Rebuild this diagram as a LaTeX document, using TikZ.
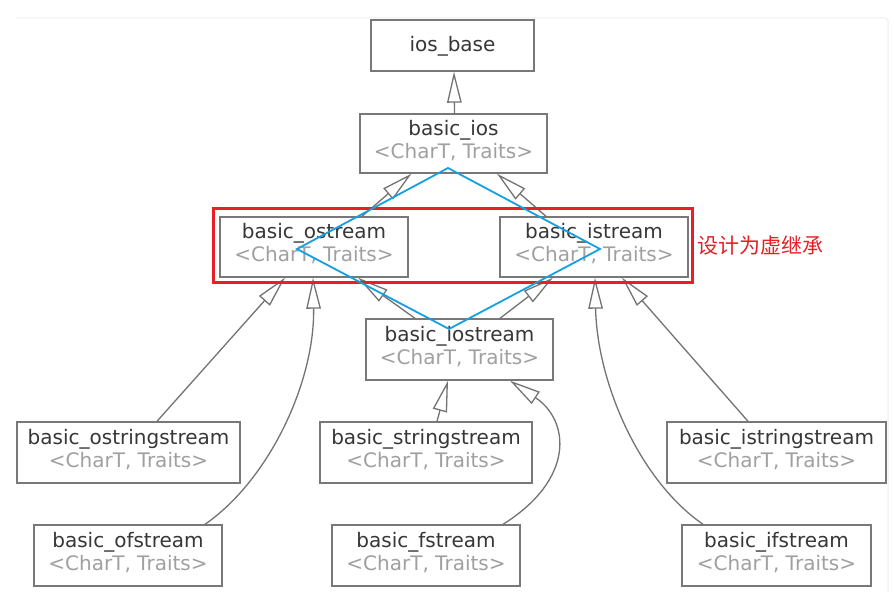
\documentclass[tikz,border=0pt]{standalone}
\usepackage{fontspec}
\setmainfont{DejaVu Sans}
\newfontfamily\cjk{Noto Sans CJK SC}
\usetikzlibrary{arrows.meta}
\definecolor{boxgray}{RGB}{120,120,120}
\definecolor{edgegray}{RGB}{115,115,115}
\definecolor{darktext}{RGB}{55,55,55}
\definecolor{tmplgray}{RGB}{160,160,160}
\definecolor{annblue}{RGB}{20,160,225}
\definecolor{annred}{RGB}{232,30,40}
\definecolor{framegray}{RGB}{238,238,238}
\newcommand{\tparams}{\textcolor{tmplgray}{<CharT, Traits>}}
\begin{document}
\begin{tikzpicture}[x=1pt,y=-1pt,
  box/.style={draw=boxgray, line width=1.4pt, fill=white, inner sep=0pt},
  lbl/.style={align=center, text=darktext, inner sep=0pt,
    font=\fontsize{20}{23}\selectfont},
  inh/.style={draw=edgegray, line width=1.3pt,
    -{Triangle[open, length=31pt, width=14.5pt]}},
]
\fill[white] (0,0) rectangle (894,609);
\useasboundingbox (0,0) rectangle (894,609);
% faint frame
\draw[framegray, line width=1pt, rounded corners=3pt] (16,18) -- (888,18) -- (888,592);

% boxes
\node[box, minimum width=163pt, minimum height=51pt] (iosb) at (452.5,45.5) {};
\node[lbl, yshift=-1pt] at (iosb.center) {ios\_base};

\node[box, minimum width=187pt, minimum height=59pt] (ios) at (453.5,143.5) {};
\node[lbl, yshift=3pt] at (ios.center) {basic\_ios\\\tparams};

\node[box, minimum width=188pt, minimum height=60pt] (os) at (314,247) {};
\node[lbl, yshift=3pt] at (os.center) {basic\_ostream\\\tparams};

\node[box, minimum width=188pt, minimum height=60pt] (is) at (594,247) {};
\node[lbl, yshift=3pt] at (is.center) {basic\_istream\\\tparams};

\node[box, minimum width=187pt, minimum height=61pt] (iost) at (459.5,349.5) {};
\node[lbl, yshift=3pt] at (iost.center) {basic\_iostream\\\tparams};

\node[box, minimum width=223pt, minimum height=61pt] (oss) at (128.5,452.5) {};
\node[lbl, yshift=3pt] at (oss.center) {basic\_ostringstream\\\tparams};

\node[box, minimum width=212pt, minimum height=61pt] (ss) at (426,452.5) {};
\node[lbl, yshift=3pt] at (ss.center) {basic\_stringstream\\\tparams};

\node[box, minimum width=219pt, minimum height=61pt] (iss) at (776.5,452.5) {};
\node[lbl, yshift=3pt] at (iss.center) {basic\_istringstream\\\tparams};

\node[box, minimum width=188pt, minimum height=61pt] (ofs) at (128,555.5) {};
\node[lbl, yshift=3pt] at (ofs.center) {basic\_ofstream\\\tparams};

\node[box, minimum width=188pt, minimum height=61pt] (fs) at (426,555.5) {};
\node[lbl, yshift=3pt] at (fs.center) {basic\_fstream\\\tparams};

\node[box, minimum width=189pt, minimum height=61pt] (ifs) at (776.5,555.5) {};
\node[lbl, yshift=3pt] at (ifs.center) {basic\_ifstream\\\tparams};

% inheritance edges
\draw[inh] ([xshift=1pt]ios.north) -- ([xshift=1.5pt]iosb.south);
\draw[inh] ([xshift=48pt]os.north) -- ([xshift=-42pt]ios.south);
\draw[inh] ([xshift=-48pt]is.north) -- ([xshift=43.5pt]ios.south);
\draw[inh] ([xshift=-44.5pt]iost.north) -- ([xshift=44pt]os.south);
\draw[inh] ([xshift=40.5pt]iost.north) -- ([xshift=-41pt]is.south);
\draw[inh] ([xshift=28.5pt]oss.north) -- ([xshift=-29pt]os.south);
\draw[inh] ([xshift=77pt]ofs.north) .. controls +(65,-45) and +(2,103) .. ([xshift=-1pt]os.south);
\draw[inh] ([xshift=11pt]ss.north) -- ([xshift=-11.5pt]iost.south);
\draw[inh] ([xshift=77pt]fs.north) .. controls +(72,-45) and +(60,40) .. ([xshift=50.5pt]iost.south);
\draw[inh] ([xshift=-28.5pt]iss.north) -- ([xshift=28pt]is.south);
\draw[inh] ([xshift=-73.5pt]ifs.north) .. controls +(-65,-45) and +(2,103) .. ([xshift=1pt]is.south);

% annotations
\draw[annred, line width=3pt] (213,209) rectangle (692,283);
\node[anchor=west, text=annred, inner sep=0pt, font=\cjk\fontsize{21}{24}\selectfont] (note) at (697,246) {设计为虚继承};
\draw[annblue, line width=1.8pt, line join=miter] (448,168) -- (600,249) -- (449,329) -- (297,249) -- cycle;
\end{tikzpicture}
\end{document}
